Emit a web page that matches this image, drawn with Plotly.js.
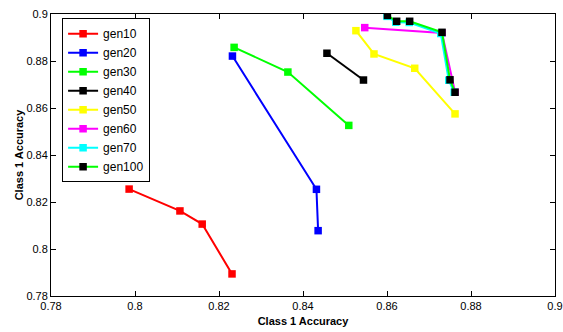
<!DOCTYPE html>
<html>
<head>
<meta charset="utf-8">
<script src="https://cdn.plot.ly/plotly-3.0.1.min.js"></script>
<style>html,body{margin:0;padding:0;background:#fff}#chart{width:563px;height:332px}</style>
</head>
<body>
<div id="chart"></div>
<script>
const seriesNames = ["gen10","gen20","gen30","gen40","gen50","gen60","gen70","gen100"];
const gen10X = [0.7986, 0.8107, 0.8160, 0.8231];
const gen10Y = [0.8255, 0.8162, 0.8106, 0.7894];
const gen20X = [0.8232, 0.8432, 0.8436];
const gen20Y = [0.8821, 0.8254, 0.8078];
const gen30X = [0.8236, 0.8364, 0.8509];
const gen30Y = [0.8858, 0.8753, 0.8526];
const gen40X = [0.8457, 0.8544];
const gen40Y = [0.8833, 0.8719];
const gen50X = [0.8526, 0.8569, 0.8666, 0.8762];
const gen50Y = [0.8929, 0.8830, 0.8769, 0.8575];
const gen60X = [0.8547, 0.8731, 0.8762];
const gen60Y = [0.8942, 0.8919, 0.8668];
const gen70X = [0.8600, 0.8621, 0.8653, 0.8728, 0.8747, 0.8760];
const gen70Y = [0.8990, 0.8965, 0.8964, 0.8917, 0.8718, 0.8667];
const gen100X = [0.8601, 0.8623, 0.8654, 0.8731, 0.8750, 0.8762];
const gen100Y = [0.8994, 0.8969, 0.8969, 0.8922, 0.8720, 0.8667];
const xTicks = [0.78, 0.8, 0.82, 0.84, 0.86, 0.88, 0.9];
const yTicks = [0.78, 0.8, 0.82, 0.84, 0.86, 0.88, 0.9];

const lineColors = ["#ff0000","#0000ff","#00ff00","#000000","#ffff00","#ff00ff","#00ffff","#00ff00"];
const markerColors = ["#ff0000","#0000ff","#00ff00","#000000","#ffff00","#ff00ff","#00ffff","#000000"];
const xs = [gen10X, gen20X, gen30X, gen40X, gen50X, gen60X, gen70X, gen100X];
const ys = [gen10Y, gen20Y, gen30Y, gen40Y, gen50Y, gen60Y, gen70Y, gen100Y];

const traces = seriesNames.map((n, i) => ({
  type: "scatter", mode: "lines+markers", name: n,
  x: xs[i], y: ys[i],
  line: {color: lineColors[i], width: 2},
  marker: {symbol: "square", size: 7.5, color: markerColors[i]}
}));

const fam = "Liberation Sans, Arial, sans-serif";
const axisCommon = {
  showline: true, linecolor: "#000", linewidth: 1, mirror: "ticks",
  ticks: "inside", ticklen: 5, tickcolor: "#000",
  showgrid: false, zeroline: false,
  tickfont: {family: fam, size: 11, color: "#000"}
};

const layout = {
  width: 563, height: 332,
  margin: {l: 51, r: 8, t: 14, b: 36},
  paper_bgcolor: "#fff", plot_bgcolor: "#fff",
  showlegend: true,
  legend: {
    x: 0.022, y: 0.985, xanchor: "left", yanchor: "top",
    bordercolor: "#000", borderwidth: 1, bgcolor: "#fff",
    font: {family: fam, size: 12, color: "#000"},
    tracegroupgap: 0, itemwidth: 30
  },
  xaxis: Object.assign({}, axisCommon, {
    range: [0.78, 0.9], tickvals: xTicks, ticktext: xTicks.map(String),
    title: {text: "<b>Class 1 Accuracy</b>", standoff: 6, font: {family: fam, size: 11, color: "#000"}}
  }),
  yaxis: Object.assign({}, axisCommon, {
    range: [0.78, 0.9], tickvals: yTicks, ticktext: yTicks.map(String),
    title: {text: "<b>Class 1 Accuracy</b>", standoff: 0, font: {family: fam, size: 11, color: "#000"}}
  })
};

Plotly.newPlot("chart", traces, layout, {displayModeBar: false, staticPlot: true});
</script>
</body>
</html>
